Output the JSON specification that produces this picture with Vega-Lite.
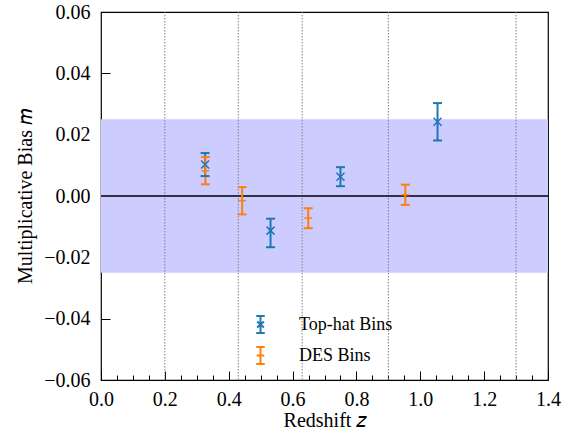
{
  "$schema": "https://vega.github.io/schema/vega-lite/v6.json",
  "width": 447,
  "height": 368,
  "autosize": "none",
  "padding": {"left": 101, "top": 12, "right": 28, "bottom": 52},
  "config": {
    "view": {"stroke": "black", "strokeWidth": 1.2},
    "font": "'Liberation Serif', serif",
    "axis": {
      "domain": false,
      "grid": false,
      "labelFont": "'Liberation Serif', serif",
      "labelFontSize": 20,
      "titleFont": "'Liberation Serif', serif",
      "titleFontSize": 20,
      "titleFontWeight": "normal",
      "tickColor": "black",
      "labelColor": "black",
      "titleColor": "black",
      "tickWidth": 1,
      "labelFlush": false,
      "labelOverlap": false
    }
  },
  "datasets": {
    "points": [
      {"series": "Top-hat Bins", "z": 0.326, "m": 0.0103, "lo": 0.0065, "hi": 0.0140},
      {"series": "Top-hat Bins", "z": 0.531, "m": -0.0113, "lo": -0.0167, "hi": -0.0074},
      {"series": "Top-hat Bins", "z": 0.750, "m": 0.0063, "lo": 0.0032, "hi": 0.0094},
      {"series": "Top-hat Bins", "z": 1.054, "m": 0.0242, "lo": 0.0181, "hi": 0.0303},
      {"series": "DES Bins", "z": 0.327, "m": 0.0082, "lo": 0.0038, "hi": 0.0127},
      {"series": "DES Bins", "z": 0.442, "m": -0.0015, "lo": -0.0060, "hi": 0.0029},
      {"series": "DES Bins", "z": 0.649, "m": -0.0072, "lo": -0.0105, "hi": -0.0040},
      {"series": "DES Bins", "z": 0.953, "m": 0.0004, "lo": -0.0029, "hi": 0.0037}
    ],
    "edges": [{"edge": 0.2}, {"edge": 0.43}, {"edge": 0.63}, {"edge": 0.9}, {"edge": 1.3}],
    "band": [{"lower": -0.025, "upper": 0.025}]
  },
  "layer": [
    {
      "data": {"name": "band"},
      "mark": {"type": "rect", "color": "#ccccff", "opacity": 1},
      "encoding": {
        "y": {"field": "lower", "type": "quantitative", "scale": {"domain": [-0.06, 0.06], "nice": false, "zero": false},
              "axis": {"values": [-0.06, -0.04, -0.02, 0, 0.02, 0.04, 0.06], "format": ".2f", "tickSize": -9, "labelPadding": 20, "title": "Multiplicative Bias 𝑚", "titlePadding": 8}},
        "y2": {"field": "upper"}
      }
    },
    {
      "data": {"name": "edges"},
      "mark": {"type": "rule", "color": "#808080", "strokeDash": [1.5, 1.5], "strokeWidth": 1},
      "encoding": {
        "x": {"field": "edge", "type": "quantitative", "scale": {"domain": [0, 1.4], "nice": false, "zero": false},
              "axis": {"orient": "bottom", "values": [0.05, 0.1, 0.15, 0.25, 0.3, 0.35, 0.45, 0.5, 0.55, 0.65, 0.7, 0.75, 0.85, 0.9, 0.95, 1.05, 1.1, 1.15, 1.25, 1.3, 1.35], "labels": false, "tickSize": -5, "title": null}}
      }
    },
    {
      "data": {"name": "band"},
      "mark": {"type": "rule", "stroke": "#000000", "strokeWidth": 1.3, "opacity": 1},
      "encoding": {"y": {"datum": 0, "type": "quantitative"}}
    },
    {
      "data": {"name": "points"},
      "mark": {"type": "rule", "strokeWidth": 2},
      "encoding": {
        "x": {"field": "z", "type": "quantitative",
              "axis": {"orient": "bottom", "values": [0, 0.2, 0.4, 0.6, 0.8, 1.0, 1.2, 1.4], "format": ".1f", "tickSize": -9, "labelPadding": 18, "title": "Redshift 𝑧", "titlePadding": 1}},
        "y": {"field": "lo", "type": "quantitative"},
        "y2": {"field": "hi"},
        "color": {"field": "series", "type": "nominal",
                  "scale": {"domain": ["Top-hat Bins", "DES Bins"], "range": ["#1f77b4", "#ff7f0e"]},
                  "legend": {
                    "orient": "none", "legendX": 150, "legendY": 303, "title": null, "padding": 0,
                    "labelFont": "'Liberation Serif', serif", "labelFontSize": 18, "labelColor": "black",
                    "symbolSize": 289, "symbolStrokeWidth": 2, "labelOffset": 29, "rowPadding": 6,
                    "encode": {"symbols": {"update": {
                      "shape": {"signal": "datum.value === 'Top-hat Bins' ? 'M-0.5,-1H0.5M0,-1V1M-0.5,1H0.5M-0.4,-0.35L0.4,0.35M-0.4,0.35L0.4,-0.35' : 'M-0.5,-1H0.5M0,-1V1M-0.5,1H0.5M-0.45,0H0.45'"},
                      "fill": {"value": "transparent"}
                    }}}
                  }}
      }
    },
    {
      "data": {"name": "points"},
      "mark": {"type": "point", "shape": "M-1,0H1", "filled": false, "size": 81, "strokeWidth": 2, "opacity": 1},
      "encoding": {
        "x": {"field": "z", "type": "quantitative", "axis": null},
        "y": {"field": "lo", "type": "quantitative"},
        "color": {"field": "series", "type": "nominal", "legend": null}
      }
    },
    {
      "data": {"name": "points"},
      "mark": {"type": "point", "shape": "M-1,0H1", "filled": false, "size": 81, "strokeWidth": 2, "opacity": 1},
      "encoding": {
        "x": {"field": "z", "type": "quantitative", "axis": null},
        "y": {"field": "hi", "type": "quantitative"},
        "color": {"field": "series", "type": "nominal", "legend": null}
      }
    },
    {
      "data": {"name": "points"},
      "transform": [{"filter": "datum.series === 'Top-hat Bins'"}],
      "mark": {"type": "point", "shape": "M-1,-1L1,1M-1,1L1,-1", "filled": false, "size": 64, "strokeWidth": 1.5, "opacity": 1},
      "encoding": {
        "x": {"field": "z", "type": "quantitative", "axis": null},
        "y": {"field": "m", "type": "quantitative"},
        "color": {"field": "series", "type": "nominal", "legend": null}
      }
    },
    {
      "data": {"name": "points"},
      "transform": [{"filter": "datum.series === 'DES Bins'"}],
      "mark": {"type": "point", "shape": "M-1,0H1", "filled": false, "size": 64, "strokeWidth": 1.5, "opacity": 1},
      "encoding": {
        "x": {"field": "z", "type": "quantitative", "axis": null},
        "y": {"field": "m", "type": "quantitative"},
        "color": {"field": "series", "type": "nominal", "legend": null}
      }
    }
  ],
  "resolve": {"axis": {"x": "independent"}}
}
